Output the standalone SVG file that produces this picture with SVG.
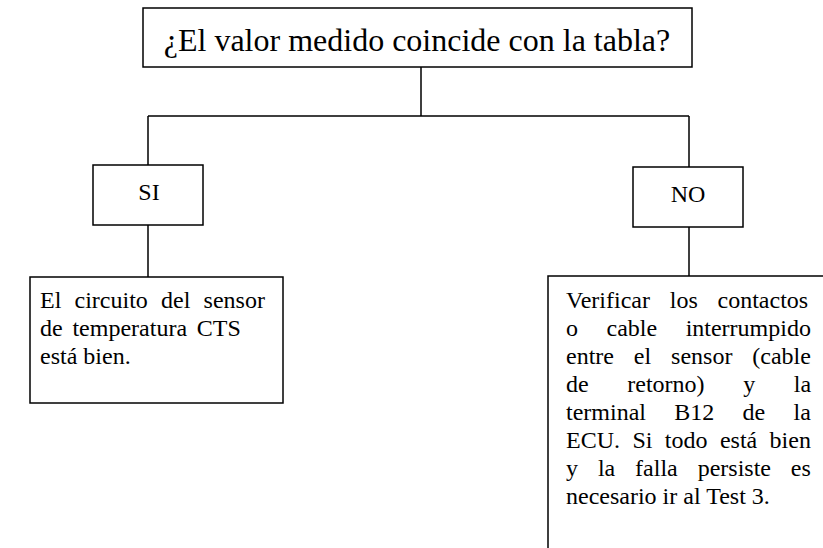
<svg xmlns="http://www.w3.org/2000/svg" width="823" height="548" viewBox="0 0 823 548">
<style>
.box{fill:#fff;stroke:#000;stroke-width:1.5}
.ln{fill:none;stroke:#000;stroke-width:1.5}
text{font-family:"Liberation Serif","Times New Roman",serif;fill:#000}
.t{font-size:32px}
.b{font-size:24px}
</style>
<rect width="823" height="548" fill="#fff"/>
<g id="connectors">
<path class="ln" d="M421,67 V116 M148,116 H689 M148,116 V165 M689,116 V167 M148,225 V277 M689,227 V276"/>
</g>
<g id="question">
<rect class="box" x="143" y="8" width="549" height="59"/>
<text class="t" x="417" y="51" text-anchor="middle">¿El valor medido coincide con la tabla?</text>
</g>
<g id="si">
<rect class="box" x="93" y="165" width="110" height="60"/>
<text class="b" x="149" y="200" text-anchor="middle">SI</text>
</g>
<g id="no">
<rect class="box" x="633" y="167" width="110" height="60"/>
<text class="b" x="688" y="202" text-anchor="middle">NO</text>
</g>
<g id="si-result">
<rect class="box" x="30" y="277" width="253" height="126"/>
<text class="b" x="40" y="308" word-spacing="7.2">El circuito del sensor</text>
<text class="b" x="40" y="336" word-spacing="3.8">de temperatura CTS</text>
<text class="b" x="40" y="364">está bien.</text>
</g>
<g id="no-result">
<rect class="box" x="548" y="276" width="300" height="300"/>
<text class="b" x="566" y="308" word-spacing="13.8">Verificar los contactos</text>
<text class="b" x="566" y="336" word-spacing="22.5">o cable interrumpido</text>
<text class="b" x="566" y="364" word-spacing="13.9">entre el sensor (cable</text>
<text class="b" x="566" y="392" word-spacing="32.6">de retorno) y la</text>
<text class="b" x="566" y="420" word-spacing="22.3">terminal B12 de la</text>
<text class="b" x="566" y="448" word-spacing="6.4">ECU. Si todo está bien</text>
<text class="b" x="566" y="476" word-spacing="13.9">y la falla persiste es</text>
<text class="b" x="566" y="504">necesario ir al Test 3.</text>
</g>
</svg>
